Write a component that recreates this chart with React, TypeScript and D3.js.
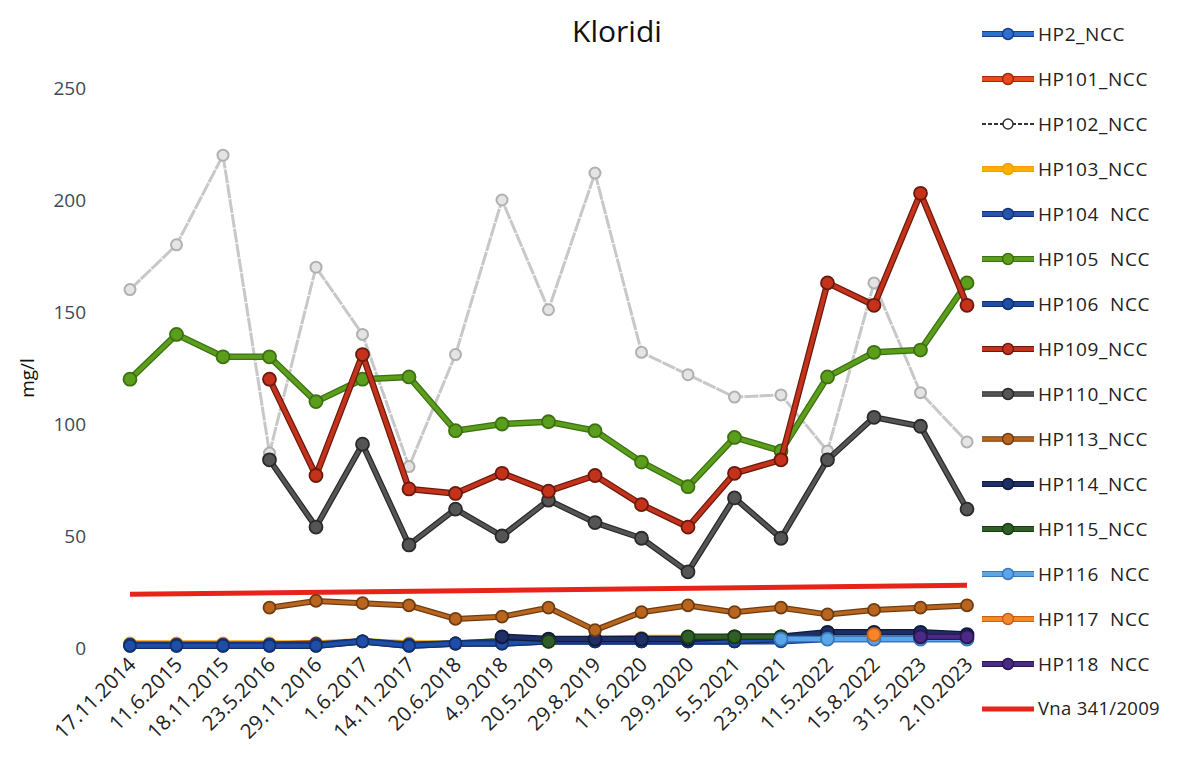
import React from "react";
import * as d3 from "d3";

const categories = [
  "17.11.2014", "11.6.2015", "18.11.2015", "23.5.2016", "29.11.2016", "1.6.2017",
  "14.11.2017", "20.6.2018", "4.9.2018", "20.5.2019", "29.8.2019", "11.6.2020",
  "29.9.2020", "5.5.2021", "23.9.2021", "11.5.2022", "15.8.2022", "31.5.2023", "2.10.2023",
];

const N = null;
const hp2 = [1, 1, 1, 1, 1, 3, 1, 2, 2, 3, 3, 3, 3, 3, 3, 4, 4, 4, 4];
const hp101 = [N, N, N, 1.5, 2, N, N, N, N, N, N, N, N, N, N, N, N, N, N];
const hp102 = [160, 180, 220, 87, 170, 140, 81, 131, 200, 151, 212, 132, 122, 112, 113, 88, 163, 114, 92];
const hp103 = [2, 2, 2, 2, 2, 3, 2, 2, 3, 3, 4, 4.5, 4.5, N, N, N, N, N, N];
const hp104 = [1.5, 1.5, 1.5, 1.5, 1.5, 3, 1.5, 2, 3, 3, 3, 3, 3, 3, N, N, N, N, N];
const hp105 = [120, 140, 130, 130, 110, 120, 121, 97, 100, 101, 97, 83, 72, 94, 88, 121, 132, 133, 163];
const hp106 = [1, 1, 1, 1, 1, 3, 1, 2, 2, 3, 3, 3, 3, 3, 4, N, N, N, N];
const hp109 = [N, N, N, 120, 77, 131, 71, 69, 78, 70, 77, 64, 54, 78, 84, 163, 153, 203, 153];
const hp110 = [N, N, N, 84, 54, 91, 46, 62, 50, 66, 56, 49, 34, 67, 49, 84, 103, 99, 62];
const hp113 = [N, N, N, 18, 21, 20, 19, 13, 14, 18, 8, 16, 19, 16, 18, 15, 17, 18, 19];
const hp114 = [N, N, N, N, N, N, N, N, 5, 4, 4, 4, 4, 5, 5, 7, 7, 7, 6];
const hp115 = [N, N, N, N, N, N, N, N, N, 3, N, N, 5, 5, 5, N, N, N, N];
const hp116 = [N, N, N, N, N, N, N, N, N, N, N, N, N, N, 4, 4, 4, 4, 4];
const hp117 = [N, N, N, N, N, N, N, N, N, N, N, N, N, N, N, N, 6, N, N];
const hp118 = [N, N, N, N, N, N, N, N, N, N, N, N, N, N, N, N, N, 5, 5];
const vnaLimit = [24, 28]; // at first and last category

const yTicks = [0, 50, 100, 150, 200, 250];

type S = { name: string; values: (number | null)[]; color: string; edge: string; width: number; r: number; light?: boolean };

const series: S[] = [
  { name: "HP2_NCC", values: hp2, color: "#2c6fd0", edge: "#1a3f8a", width: 4, r: 6 },
  { name: "HP101_NCC", values: hp101, color: "#ea4a1a", edge: "#a02a0a", width: 4, r: 6 },
  { name: "HP102_NCC", values: hp102, color: "#c8c8c8", edge: "#b0b0b0", width: 3, r: 5.5, light: true },
  { name: "HP103_NCC", values: hp103, color: "#ffae00", edge: "#f0a000", width: 4, r: 6 },
  { name: "HP104  NCC", values: hp104, color: "#2553b0", edge: "#173475", width: 4, r: 6 },
  { name: "HP105  NCC", values: hp105, color: "#5a9e1c", edge: "#3d7010", width: 4, r: 6.5 },
  { name: "HP106  NCC", values: hp106, color: "#1f4ea8", edge: "#12306a", width: 4, r: 6 },
  { name: "HP109_NCC", values: hp109, color: "#c4321c", edge: "#6a1a0c", width: 4, r: 6.5 },
  { name: "HP110_NCC", values: hp110, color: "#555555", edge: "#2a2a2a", width: 3.5, r: 6.5 },
  { name: "HP113_NCC", values: hp113, color: "#b9651e", edge: "#6e3c12", width: 3.5, r: 6 },
  { name: "HP114_NCC", values: hp114, color: "#1d2f66", edge: "#0f1a3c", width: 4, r: 6.5 },
  { name: "HP115_NCC", values: hp115, color: "#2f5f26", edge: "#1a3a14", width: 4, r: 6.5 },
  { name: "HP116  NCC", values: hp116, color: "#5ba6ea", edge: "#3a78b8", width: 4, r: 6.5 },
  { name: "HP117  NCC", values: hp117, color: "#f5862a", edge: "#c8601a", width: 4, r: 6.5 },
  { name: "HP118  NCC", values: hp118, color: "#4b2a86", edge: "#2a1650", width: 4, r: 6.5 },
];

const drawOrder = ["HP102_NCC", "HP103_NCC", "HP101_NCC", "HP104  NCC", "HP2_NCC", "HP106  NCC", "HP114_NCC", "HP115_NCC", "HP116  NCC", "HP117  NCC", "HP118  NCC", "HP113_NCC", "HP110_NCC", "HP105  NCC", "HP109_NCC"];

const W = 1179;
const H = 757;
const FONT = "'Open Sans', 'DejaVu Sans', sans-serif";

export default function App() {
  const x = d3.scalePoint<string>().domain(categories).range([130, 967]);
  const y = d3.scaleLinear().domain([0, 250]).range([648, 88]);

  const lineGen = d3
    .line<number | null>()
    .defined((d) => d != null)
    .x((_, i) => x(categories[i]) as number)
    .y((d) => y(d as number));

  const ordered = drawOrder.map((n) => series.find((s) => s.name === n)!);

  const legendX = 982;
  const legendY0 = 34;
  const legendStep = 45;

  return (
    <svg width={W} height={H} style={{ position: "absolute", left: 0, top: 0, background: "#fff" }} fontFamily={FONT}>
      <rect x={0} y={0} width={W} height={H} fill="#fff" />
      <text x={617} y={42} textAnchor="middle" fontSize={30} fill="#111">Kloridi</text>

      {yTicks.map((t) => (
        <text key={t} x={86} y={y(t)} dy="0.35em" textAnchor="end" fontSize={19} fill="#3b4a5a">{t}</text>
      ))}
      <text transform={`translate(34,${378}) rotate(-90)`} textAnchor="middle" fontSize={19} fill="#111">mg/l</text>

      {categories.map((c) => (
        <text key={c} transform={`translate(${(x(c) as number) + 7},${666}) rotate(-45)`} textAnchor="end" fontSize={20.5} fill="#222">{c}</text>
      ))}

      <line x1={x(categories[0])} x2={x(categories[categories.length - 1])} y1={y(vnaLimit[0])} y2={y(vnaLimit[1])} stroke="#e8231a" strokeWidth={5} />

      {ordered.map((s) => {
        const path = lineGen(s.values) || "";
        return (
          <g key={s.name}>
            {s.light ? (
              <path d={path} fill="none" stroke={s.color} strokeWidth={s.width} strokeDasharray="14 1" />
            ) : (
              <>
                <path d={path} fill="none" stroke={s.edge} strokeWidth={s.width + 2.5} strokeLinejoin="round" />
                <path d={path} fill="none" stroke={s.color} strokeWidth={s.width} strokeLinejoin="round" />
              </>
            )}
            {s.values.map((v, i) =>
              v == null ? null : (
                <circle
                  key={i}
                  cx={x(categories[i])}
                  cy={y(v)}
                  r={s.r}
                  fill={s.light ? "#e4e4e4" : s.color}
                  stroke={s.edge}
                  strokeWidth={s.light ? 2 : 1.8}
                />
              )
            )}
          </g>
        );
      })}

      {series.map((s, i) => {
        const ly = legendY0 + i * legendStep;
        return (
          <g key={s.name}>
            {s.light ? (
              <>
                <line x1={legendX} x2={legendX + 52} y1={ly} y2={ly} stroke="#333" strokeWidth={2} strokeDasharray="4 2" />
                <circle cx={legendX + 26} cy={ly} r={5} fill="#fff" stroke="#333" strokeWidth={1.5} />
              </>
            ) : (
              <>
                <line x1={legendX} x2={legendX + 52} y1={ly} y2={ly} stroke={s.edge} strokeWidth={s.width + 2} />
                <line x1={legendX} x2={legendX + 52} y1={ly} y2={ly} stroke={s.color} strokeWidth={s.width} />
                <circle cx={legendX + 26} cy={ly} r={5.5} fill={s.color} stroke={s.edge} strokeWidth={1.5} />
              </>
            )}
            <text x={legendX + 56} y={ly} dy="0.35em" fontSize={19} letterSpacing={0.6} fill="#222" style={{ whiteSpace: "pre" }}>{s.name}</text>
          </g>
        );
      })}
      {(() => {
        const ly = legendY0 + series.length * legendStep;
        return (
          <g>
            <line x1={legendX} x2={legendX + 52} y1={ly} y2={ly} stroke="#e8231a" strokeWidth={5} />
            <text x={legendX + 56} y={ly} dy="0.35em" fontSize={18.5} letterSpacing={0.3} fill="#222">Vna 341/2009</text>
          </g>
        );
      })()}
    </svg>
  );
}
